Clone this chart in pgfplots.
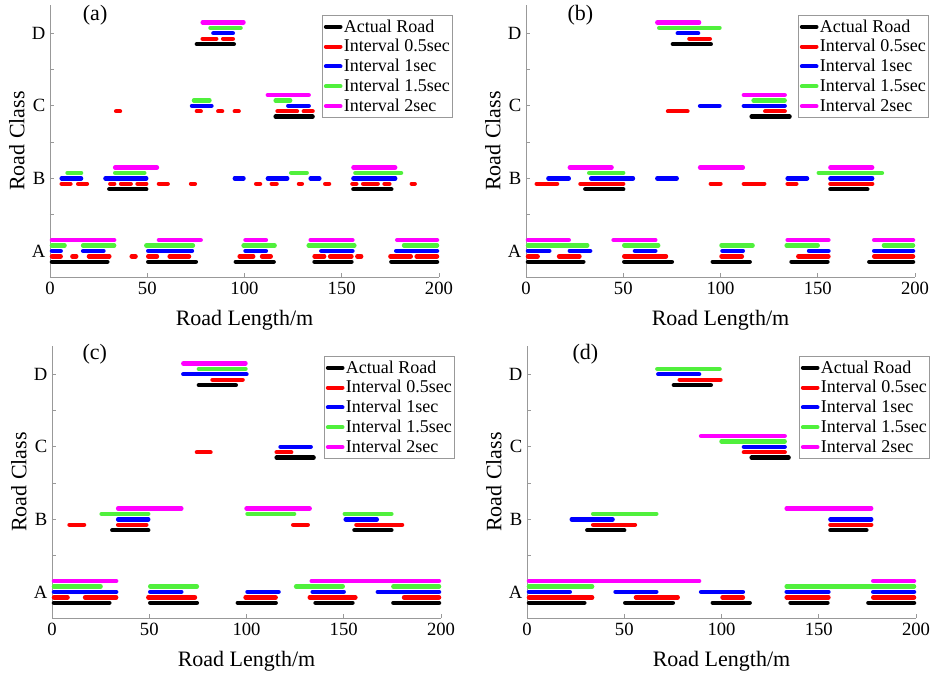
\documentclass[border=0pt]{standalone}
\usepackage{fontspec}
\setmainfont{Liberation Serif}
\usepackage{pgfplots}
\pgfplotsset{compat=1.18}
\definecolor{mygreen}{RGB}{80,240,60}
\definecolor{mymag}{RGB}{255,0,255}
\definecolor{myred}{RGB}{255,0,0}
\definecolor{myblue}{RGB}{0,0,255}
\pgfplotsset{
 panel/.style={
  scale only axis, width=291.75pt, height=204pt,
  xmin=0, xmax=200, ymin=0.64, ymax=4.39,
  axis x line*=bottom, axis y line*=left,
  axis line style={gray!80, line width=0.6pt},
  tick style={gray!80, line width=0.6pt, major tick length=3pt},
  tick align=inside,
  xtick={0,50,100,150,200}, xticklabels={0,50,100,150,200},
  ytick={1,1.5,2,2.5,3,3.5,4}, yticklabels={A,,B,,C,,D},
  xlabel={Road Length/m}, ylabel={Road Class},
  xlabel style={at={(axis description cs:0.5,-0.158)}, anchor=center},
  ylabel style={at={(axis description cs:-0.085,0.5)}, anchor=center},
  unbounded coords=jump, clip=false,
  tick label style={font=\fontsize{14}{16}\selectfont},
  label style={font=\fontsize{16.5}{18}\selectfont},
  legend style={at={(1.036,0.963)}, anchor=north east, draw=gray!80,
    font=\fontsize{13.5}{16.3}\selectfont, inner sep=1.2pt,
    nodes={inner xsep=1pt}},
  legend cell align=left,
  legend image code/.code={\draw[#1, line width=3pt, line cap=round] (0pt,0pt) -- (11pt,0pt);},
  every axis plot/.append style={line width=3.3pt, line cap=round},
 }
}
\begin{document}
\begin{tikzpicture}
\path[use as bounding box] (0,0) rectangle (699.75pt,505.5pt);
% ---------------- (a)
\begin{axis}[panel, at={(37.5pt,297.75pt)}, anchor=south west]
\addplot[black] coordinates {(1,0.85) (29.5,0.85) (40,nan) (50.5,0.85) (75,0.85) (85,nan) (95.5,0.85) (115,0.85) (125,nan) (136,0.85) (155,0.85) (165,nan) (175.5,0.85) (199,0.85) (199.5,nan)
 (30.5,1.85) (49.5,1.85) (52,nan) (156,1.85) (175.5,1.85) (176,nan)
 (116,2.85) (135,2.85) (136,nan) (75.5,3.85) (94.5,3.85)};
\addplot[myred] coordinates {(1,0.925) (5.5,0.925) (6,nan) (11.5,0.925) (13.5,0.925) (14,nan) (20,0.925) (30.5,0.925) (31,nan) (42,0.925) (44,0.925) (45,nan) (50.5,0.925) (55,0.925) (56,nan) (61.5,0.925) (71.5,0.925) (72,nan) (97.5,0.925) (104.5,0.925) (105,nan) (109,0.925) (113.5,0.925) (114,nan) (136,0.925) (141,0.925) (142,nan) (144,0.925) (155,0.925) (156,nan) (158,0.925) (160,0.925) (161,nan) (175,0.925) (185.5,0.925) (186,nan) (188.5,0.925) (199,0.925) (199.5,nan)
 (6,1.925) (10.5,1.925) (11,nan) (14.5,1.925) (19,1.925) (20,nan) (31,1.925) (33,1.925) (34,nan) (36.5,1.925) (41.5,1.925) (42,nan) (45,1.925) (49.5,1.925) (50,nan) (56,1.925) (60.5,1.925) (61,nan) (72.5,1.925) (74.5,1.925) (75,nan) (106,1.925) (108,1.925) (109,nan) (114,1.925) (116.5,1.925) (117,nan) (128,1.925) (129.5,1.925) (130,nan) (141.5,1.925) (143.5,1.925) (144,nan) (155.5,1.925) (157.5,1.925) (158,nan) (161,1.925) (168.5,1.925) (169,nan) (172,1.925) (174.5,1.925) (175,nan) (186,1.925) (187.5,1.925) (188,nan)
 (34,2.925) (36,2.925) (37,nan) (75.5,2.925) (77.5,2.925) (78,nan) (86.5,2.925) (88.5,2.925) (89,nan) (95,2.925) (97,2.925) (98,nan) (117,2.925) (127,2.925) (128,nan) (130.5,2.925) (135,2.925) (136,nan)
 (78.5,3.925) (85.5,3.925) (86,nan) (89,3.925) (94,3.925)};
\addplot[myblue] coordinates {(1,1) (5.5,1) (6,nan) (17,1) (27.5,1) (28,nan) (50.5,1) (73,1) (74,nan) (100.5,1) (111,1) (112,nan) (139.5,1) (155.5,1) (156,nan) (178,1) (199,1) (199.5,nan)
 (6,2) (16,2) (17,nan) (28.5,2) (49.5,2) (50,nan) (95,2) (99.5,2) (100,nan) (112,2) (122,2) (123,nan) (134,2) (138.5,2) (139,nan) (156,2) (177.5,2) (178,nan)
 (73,3) (83,3) (84,nan) (122.5,3) (133,3) (134,nan) (84,4) (94,4)};
\addplot[mygreen] coordinates {(1,1.075) (7.5,1.075) (8,nan) (17,1.075) (33,1.075) (34,nan) (49.5,1.075) (73.5,1.075) (74,nan) (99.5,1.075) (115.5,1.075) (116,nan) (133,1.075) (156.5,1.075) (157,nan) (182,1.075) (199,1.075) (199.5,nan)
 (9,2.075) (16,2.075) (17,nan) (33.5,2.075) (48.5,2.075) (49,nan) (124,2.075) (132,2.075) (133,nan) (157,2.075) (180.5,2.075) (181,nan)
 (74,3.075) (82,3.075) (83,nan) (116,3.075) (123.5,3.075) (124,nan) (82.5,4.075) (98,4.075)};
\addplot[mymag] coordinates {(1,1.15) (33,1.15) (34,nan) (56,1.15) (77.5,1.15) (78,nan) (100.5,1.15) (111,1.15) (112,nan) (134,1.15) (155.5,1.15) (156,nan) (178.5,1.15) (199,1.15) (199.5,nan)
 (33.5,2.15) (55,2.15) (56,nan) (156,2.15) (177.5,2.15) (178,nan)
 (112,3.15) (133,3.15) (134,nan) (78.5,4.15) (99.5,4.15)};
\legend{Actual Road, Interval 0.5sec, Interval 1sec, Interval 1.5sec, Interval 2sec}
\node[font=\fontsize{16.5}{18}\selectfont] at (rel axis cs:0.116,0.963) {(a)};
\end{axis}
% ---------------- (b)
\begin{axis}[panel, at={(394.5pt,297.75pt)}, anchor=south west]
\addplot[black] coordinates {(1,0.85) (29.5,0.85) (40,nan) (50.5,0.85) (75,0.85) (85,nan) (96,0.85) (115,0.85) (125,nan) (136.5,0.85) (155,0.85) (165,nan) (176.5,0.85) (199,0.85) (199.5,nan)
 (30.5,1.85) (50,1.85) (52,nan) (156.5,1.85) (175.5,1.85) (176,nan)
 (116,2.85) (135.5,2.85) (136,nan) (75.5,3.85) (95,3.85)};
\addplot[myred] coordinates {(1,0.925) (6,0.925) (7,nan) (17,0.925) (27.5,0.925) (28,nan) (50.5,0.925) (72,0.925) (73,nan) (100.5,0.925) (111,0.925) (112,nan) (140,0.925) (155.5,0.925) (156,nan) (179,0.925) (199,0.925) (199.5,nan)
 (5.5,1.925) (16,1.925) (17,nan) (28,1.925) (50,1.925) (51,nan) (95,1.925) (100,1.925) (101,nan) (112,1.925) (122.5,1.925) (123,nan) (134.5,1.925) (139,1.925) (140,nan) (156.5,1.925) (178,1.925) (179,nan)
 (73,2.925) (83,2.925) (84,nan) (123,2.925) (133,2.925) (134,nan) (84,3.925) (94.5,3.925)};
\addplot[myblue] coordinates {(1,1) (12,1) (13,nan) (22.5,1) (33,1) (34,nan) (56,1) (66.5,1) (67,nan) (101,1) (111.5,1) (112,nan) (145.5,1) (155.5,1) (156,nan) (179,1) (199,1) (199.5,nan)
 (11.5,2) (22,2) (23,nan) (33.5,2) (55,2) (56,nan) (67.5,2) (77.5,2) (78,nan) (134.5,2) (144.5,2) (145,nan) (156.5,2) (178,2) (179,nan)
 (89.5,3) (99.5,3) (100,nan) (112,3) (133,3) (134,nan) (78,4) (88.5,4)};
\addplot[mygreen] coordinates {(1,1.075) (31.5,1.075) (32,nan) (50.5,1.075) (68,1.075) (69,nan) (100.5,1.075) (116.5,1.075) (117,nan) (134,1.075) (150,1.075) (151,nan) (184,1.075) (199,1.075) (199.5,nan)
 (32.5,2.075) (50,2.075) (51,nan) (150.5,2.075) (183,2.075) (184,nan)
 (117,3.075) (133,3.075) (134,nan) (68.5,4.075) (99.5,4.075)};
\addplot[mymag] coordinates {(1,1.15) (22,1.15) (23,nan) (45,1.15) (66.5,1.15) (67,nan) (134.5,1.15) (155.5,1.15) (156,nan) (179,1.15) (199,1.15) (199.5,nan)
 (22.5,2.15) (44,2.15) (45,nan) (89.5,2.15) (111.5,2.15) (112,nan) (156.5,2.15) (178,2.15) (179,nan)
 (112,3.15) (133,3.15) (134,nan) (67.5,4.15) (89,4.15)};
\legend{Actual Road, Interval 0.5sec, Interval 1sec, Interval 1.5sec, Interval 2sec}
\node[font=\fontsize{16.5}{18}\selectfont] at (rel axis cs:0.14,0.963) {(b)};
\end{axis}
% ---------------- (c)
\begin{axis}[panel, at={(39pt,42pt)}, anchor=south west]
\addplot[black] coordinates {(1,0.85) (29.5,0.85) (40,nan) (50.5,0.85) (74.5,0.85) (85,nan) (95.5,0.85) (115,0.85) (125,nan) (135.5,0.85) (154.5,0.85) (165,nan) (175.5,0.85) (199,0.85) (199.5,nan)
 (31,1.85) (49.5,1.85) (52,nan) (155.5,1.85) (174.5,1.85) (175,nan)
 (115.5,2.85) (134.5,2.85) (135,nan) (75.5,3.85) (94.5,3.85)};
\addplot[myred] coordinates {(1,0.925) (8,0.925) (9,nan) (17,0.925) (33,0.925) (34,nan) (49.5,0.925) (73.5,0.925) (74,nan) (99.5,0.925) (115,0.925) (116,nan) (132.5,0.925) (156,0.925) (157,nan) (181,0.925) (199,0.925) (199.5,nan)
 (9,1.925) (16.5,1.925) (17,nan) (34,1.925) (48.5,1.925) (49,nan) (124,1.925) (131.5,1.925) (132,nan) (156.5,1.925) (180,1.925) (181,nan)
 (74.5,2.925) (81.5,2.925) (82,nan) (115.5,2.925) (123,2.925) (124,nan) (82.5,3.925) (98,3.925)};
\addplot[myblue] coordinates {(1,1) (33,1) (34,nan) (50.5,1) (66.5,1) (67,nan) (100.5,1) (116.5,1) (117,nan) (134,1) (150,1) (151,nan) (167.5,1) (199,1) (199.5,nan)
 (34,2) (49.5,2) (50,nan) (151,2) (167,2) (168,nan)
 (117.5,3) (133,3) (134,nan) (67.5,4) (100,4)};
\addplot[mygreen] coordinates {(1,1.075) (25,1.075) (26,nan) (50.5,1.075) (74.5,1.075) (75,nan) (125.5,1.075) (149.5,1.075) (150,nan) (175.5,1.075) (199,1.075) (199.5,nan)
 (25.5,2.075) (49.5,2.075) (50,nan) (100.5,2.075) (124.5,2.075) (125,nan) (150.5,2.075) (174.5,2.075) (175,nan)
 (75.5,4.075) (99.5,4.075)};
\addplot[mymag] coordinates {(1,1.15) (33,1.15) (34,nan) (133.5,1.15) (199,1.15) (199.5,nan)
 (34,2.15) (66.5,2.15) (67,nan) (100,2.15) (132.5,2.15) (133,nan)
 (67.5,4.15) (99.5,4.15)};
\legend{Actual Road, Interval 0.5sec, Interval 1sec, Interval 1.5sec, Interval 2sec}
\node[font=\fontsize{16.5}{18}\selectfont] at (rel axis cs:0.11,0.97) {(c)};
\end{axis}
% ---------------- (d)
\begin{axis}[panel, at={(395.25pt,42pt)}, anchor=south west]
\addplot[black] coordinates {(1,0.85) (29.5,0.85) (40,nan) (50.5,0.85) (75,0.85) (85,nan) (95.5,0.85) (114.5,0.85) (125,nan) (135.5,0.85) (154.5,0.85) (165,nan) (175.5,0.85) (199,0.85) (199.5,nan)
 (31,1.85) (50,1.85) (52,nan) (156,1.85) (174.5,1.85) (175,nan)
 (115.5,2.85) (134.5,2.85) (135,nan) (75.5,3.85) (94.5,3.85)};
\addplot[myred] coordinates {(1,0.925) (33.5,0.925) (34,nan) (56,0.925) (77.5,0.925) (78,nan) (100.5,0.925) (111,0.925) (112,nan) (133.5,0.925) (155,0.925) (156,nan) (178,0.925) (199,0.925) (199.5,nan)
 (34,1.925) (55.5,1.925) (56,nan) (156,1.925) (177,1.925) (178,nan)
 (111.5,2.925) (132.5,2.925) (133,nan) (78.5,3.925) (99.5,3.925)};
\addplot[myblue] coordinates {(1,1) (22,1) (23,nan) (45.5,1) (66.5,1) (67,nan) (89.5,1) (111,1) (112,nan) (133.5,1) (155,1) (156,nan) (178,1) (199,1) (199.5,nan)
 (23,2) (44,2) (45,nan) (156,2) (177,2) (178,nan)
 (111.5,3) (132.5,3) (133,nan) (67.5,4) (88.5,4)};
\addplot[mygreen] coordinates {(1,1.075) (33.5,1.075) (34,nan) (133.5,1.075) (199,1.075) (199.5,nan)
 (34,2.075) (66.5,2.075) (67,nan)
 (100,3.075) (132.5,3.075) (133,nan) (67,4.075) (99,4.075)};
\addplot[mymag] coordinates {(1,1.15) (88.5,1.15) (89,nan) (178,1.15) (199,1.15) (199.5,nan)
 (133.5,2.15) (177,2.15) (178,nan)
 (89.5,3.15) (132.5,3.15)};
\legend{Actual Road, Interval 0.5sec, Interval 1sec, Interval 1.5sec, Interval 2sec}
\node[font=\fontsize{16.5}{18}\selectfont] at (rel axis cs:0.15,0.97) {(d)};
\end{axis}
\end{tikzpicture}
\end{document}
